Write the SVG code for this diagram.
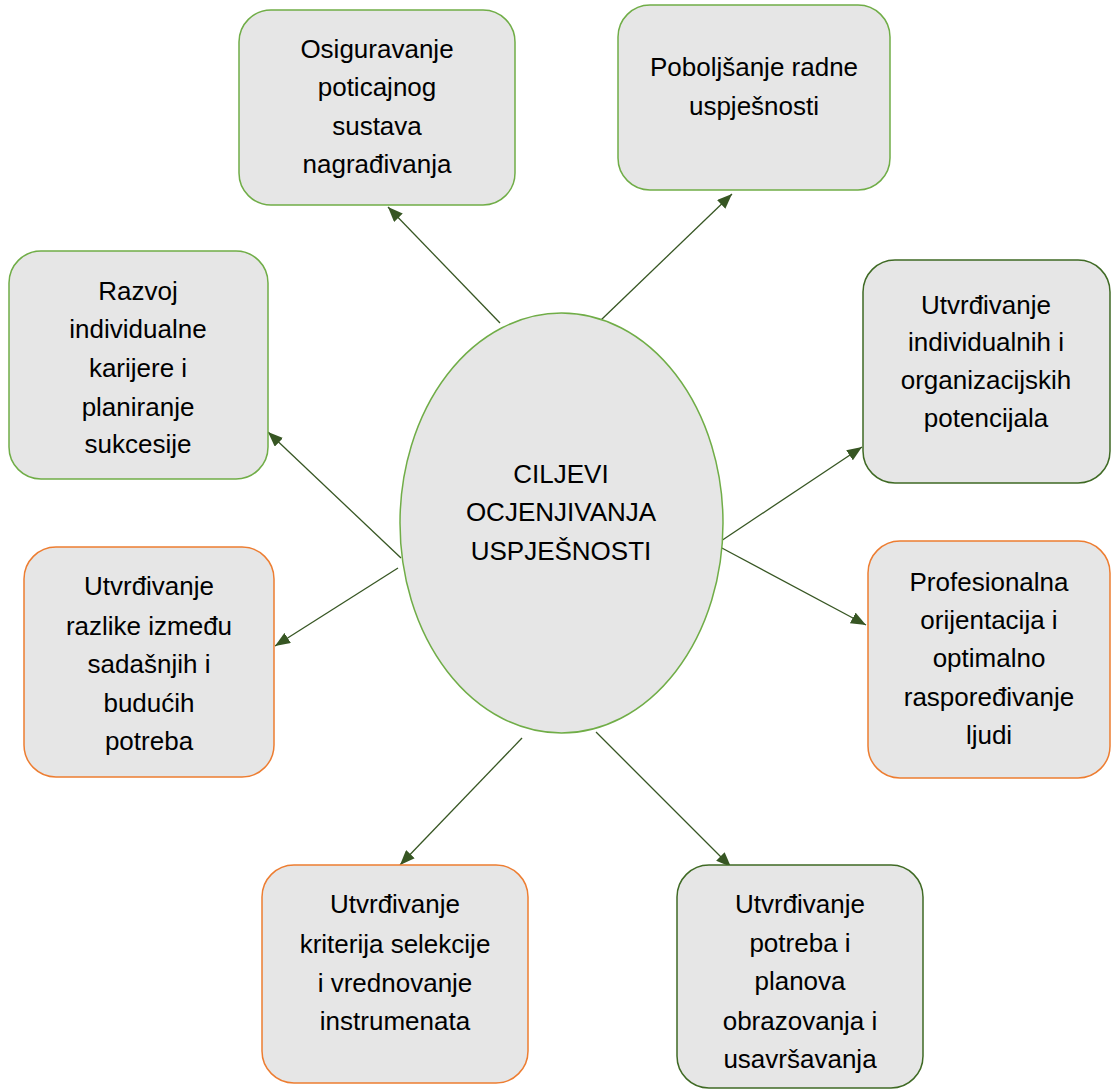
<svg xmlns="http://www.w3.org/2000/svg" width="1111" height="1090" viewBox="0 0 1111 1090">
<style>
.box{fill:#E6E6E6;stroke-width:1.5}
.g{stroke:#70AD47}
.d{stroke:#3F6A24}
.o{stroke:#ED7D31}
text{font-family:"Liberation Sans",Arial,sans-serif;font-size:26px;fill:#000;text-anchor:middle}
.conn line{stroke:#375623;stroke-width:1.3;marker-end:url(#ah)}
</style>
<defs>
<marker id="ah" markerUnits="userSpaceOnUse" markerWidth="16" markerHeight="12" refX="15" refY="6" orient="auto">
<path d="M0,0 L15,6 L0,12 Z" fill="#375623"/>
</marker>
</defs>
<rect width="1111" height="1090" fill="#fff"/>
<g class="conn">
<line x1="500" y1="323" x2="388" y2="207"/>
<line x1="601" y1="320" x2="732" y2="194"/>
<line x1="718" y1="543" x2="862" y2="447"/>
<line x1="720" y1="547" x2="866" y2="625"/>
<line x1="401" y1="558" x2="268" y2="432"/>
<line x1="398" y1="568" x2="275" y2="646"/>
<line x1="522" y1="738" x2="400" y2="865"/>
<line x1="596" y1="732" x2="731" y2="867"/>
</g>
<g id="center">
<ellipse class="box g" cx="561.5" cy="523" rx="161.5" ry="210"/>
<text x="561" y="483">CILJEVI</text>
<text x="561" y="521">OCJENJIVANJA</text>
<text x="561" y="560">USPJEŠNOSTI</text>
</g>
<g id="n1">
<rect class="box g" x="239" y="10" width="276" height="195" rx="32"/>
<text x="377" y="58">Osiguravanje</text>
<text x="377" y="96">poticajnog</text>
<text x="377" y="135">sustava</text>
<text x="377" y="173">nagrađivanja</text>
</g>
<g id="n2">
<rect class="box g" x="618" y="5" width="272" height="185" rx="32"/>
<text x="754" y="76">Poboljšanje radne</text>
<text x="754" y="115">uspješnosti</text>
</g>
<g id="n3">
<rect class="box d" x="863" y="260" width="247" height="223" rx="32"/>
<text x="986" y="314">Utvrđivanje</text>
<text x="986" y="351">individualnih i</text>
<text x="986" y="389">organizacijskih</text>
<text x="986" y="427">potencijala</text>
</g>
<g id="n4">
<rect class="box o" x="868" y="541" width="242" height="237" rx="32"/>
<text x="989" y="591">Profesionalna</text>
<text x="989" y="629">orijentacija i</text>
<text x="989" y="667">optimalno</text>
<text x="989" y="706">raspoređivanje</text>
<text x="989" y="744">ljudi</text>
</g>
<g id="n5">
<rect class="box g" x="9" y="251" width="259" height="228" rx="32"/>
<text x="138" y="300">Razvoj</text>
<text x="138" y="338">individualne</text>
<text x="138" y="377">karijere i</text>
<text x="138" y="416">planiranje</text>
<text x="138" y="453">sukcesije</text>
</g>
<g id="n6">
<rect class="box o" x="24" y="547" width="250" height="230" rx="32"/>
<text x="149" y="595">Utvrđivanje</text>
<text x="149" y="635">razlike između</text>
<text x="149" y="673">sadašnjih i</text>
<text x="149" y="712">budućih</text>
<text x="149" y="750">potreba</text>
</g>
<g id="n7">
<rect class="box o" x="262" y="865" width="266" height="218" rx="32"/>
<text x="395" y="913">Utvrđivanje</text>
<text x="395" y="953">kriterija selekcije</text>
<text x="395" y="992">i vrednovanje</text>
<text x="395" y="1030">instrumenata</text>
</g>
<g id="n8">
<rect class="box d" x="677" y="865" width="246" height="223" rx="32"/>
<text x="800" y="913">Utvrđivanje</text>
<text x="800" y="952">potreba i</text>
<text x="800" y="990">planova</text>
<text x="800" y="1030">obrazovanja i</text>
<text x="800" y="1068">usavršavanja</text>
</g>
</svg>
